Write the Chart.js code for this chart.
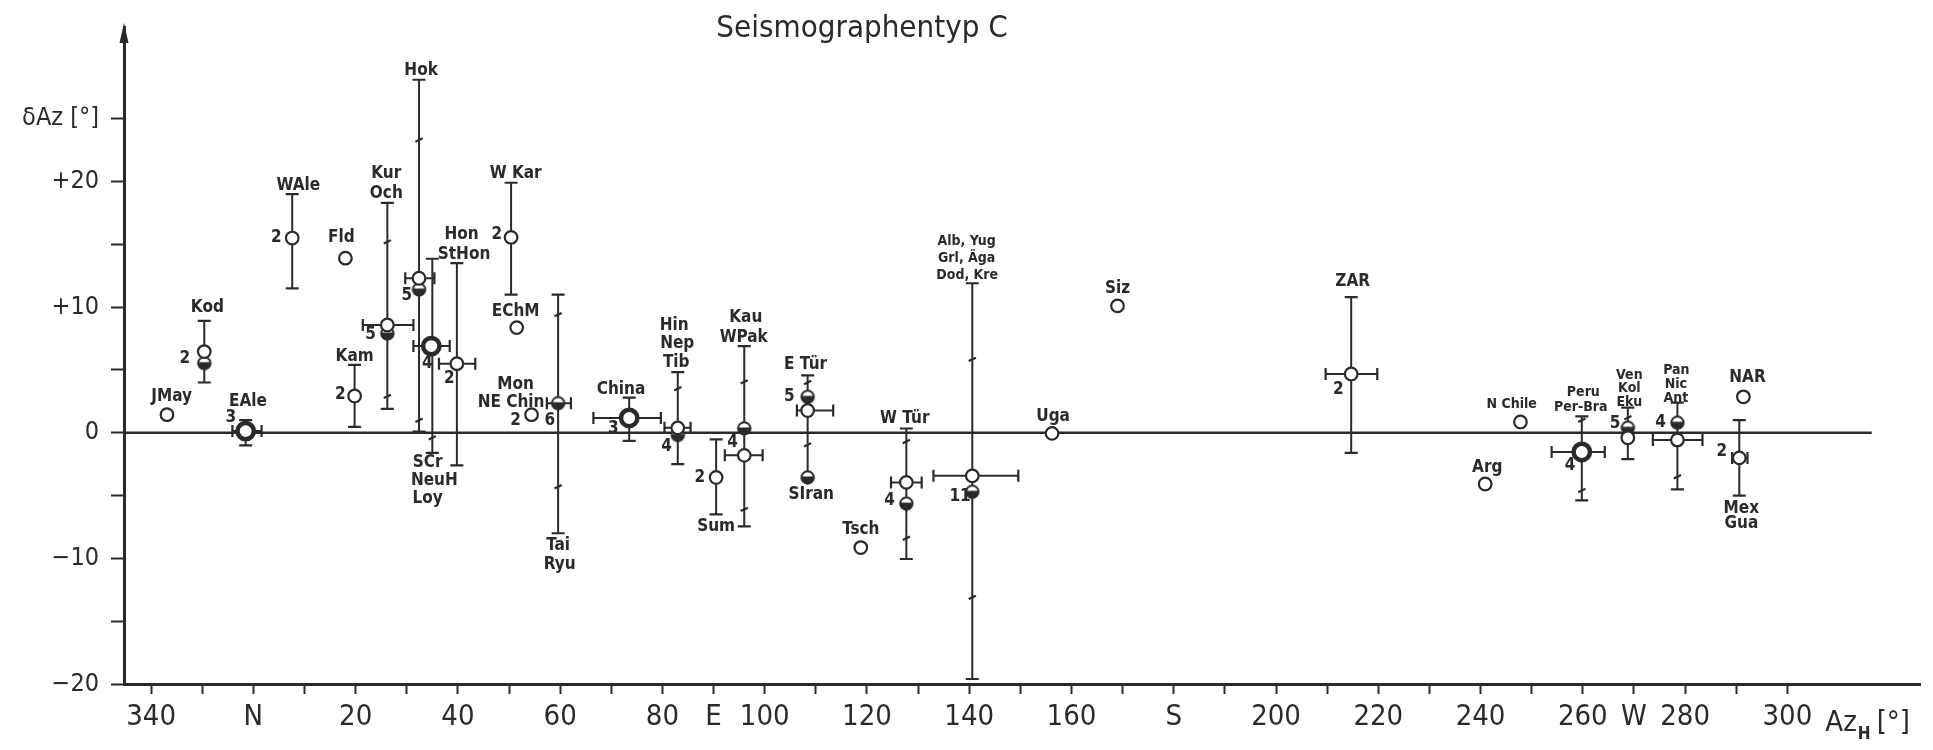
<!DOCTYPE html>
<html>
<head>
<meta charset="utf-8">
<script src="https://cdn.jsdelivr.net/npm/chart.js@4.4.1/dist/chart.umd.min.js"></script>
<style>
html,body{margin:0;padding:0;background:#fff;}
#wrap{width:1933px;height:750px;position:relative;}
</style>
</head>
<body>
<div id="wrap"><canvas id="c" width="1933" height="750"></canvas></div>
<script>
// ---------------- DATA ----------------
// Azimuth is plotted continuously: 340° -> -20, N -> 0, E -> 90, S -> 180, W -> 270
const xTickMarks  = [-20,-10,0,10,20,30,40,50,60,70,80,90,100,110,120,130,140,150,160,170,180,190,200,210,220,230,240,250,260,270,280,290,300];
const xTickValues = [-20,0,20,40,60,80,90,100,120,140,160,180,200,220,240,260,270,280,300];
const xTickLabels = ['340','N','20','40','60','80','E','100','120','140','160','S','200','220','240','260','W','280','300'];
const yTickMarks  = [-20,-15,-10,-5,0,5,10,15,20,25];
const yTickValues = [25,20,10,0,-10,-20];
const yTickLabels = ['δAz [°]','+20','+10','0','−10','−20'];
const X_MIN = -25.3, X_MAX = 326, Y_MIN = -20, Y_MAX = 32.3;
const zeroLineEnd = 316.5;

// open circles
const openX = [-16.9,-9.6,7.6,18.0,19.8,26.2,32.4,39.8,50.4,51.5,54.4,83.0,90.5,96.0,108.4,118.8,127.7,140.6,156.2,169.0,214.7,247.8,240.9,268.8,278.5,291.4,290.6];
const openY = [1.44,6.46,15.5,13.9,2.93,8.58,12.3,5.5,15.55,8.37,1.44,0.39,-3.56,-1.8,1.77,-9.14,-3.95,-3.43,-0.05,10.1,4.68,0.86,-4.08,-0.4,-0.57,2.86,-2.0];
// bold circles
const boldX = [-1.5,34.8,73.5,259.8];
const boldY = [0.13,6.9,1.18,-1.53];
// half-filled circles
const halfX = [-9.6,26.2,32.4,59.6,83.0,96.0,108.4,108.4,127.7,140.6,268.8,278.5];
const halfY = [5.54,7.9,11.4,2.35,-0.18,0.34,2.86,-3.56,-5.64,-4.7,0.4,0.8];

// vertical error bars
const vBarX  = [-9.6,-1.5,7.6,19.8,26.2,32.4,35.0,39.8,50.4,59.6,73.5,83.0,90.5,96.0,108.4,127.7,140.6,214.7,259.8,268.8,278.5,290.6];
const vBarLo = [4.0,-1.0,11.5,0.47,1.9,0.1,-1.6,-2.6,11.0,-8.0,-0.65,-2.5,-6.5,-7.45,-3.56,-10.05,-19.6,-1.6,-5.38,-2.1,-4.5,-5.0];
const vBarHi = [8.9,1.0,19.0,5.4,18.3,28.1,13.85,13.5,19.9,11.0,2.8,4.83,-0.52,6.9,4.57,0.34,11.9,10.8,1.3,2.0,2.4,1.0];
const vBarInner = [[],[],[],[],[15.2,2.9],[23.3,1.0],[-0.4],[],[],[9.4,-4.3],[],[3.5],[],[4.05,-6.1],[4.0,-0.96],[-0.7,-8.4],[5.84,-13.1],[],[1.0,-4.6],[1.2],[-3.5],[]];
// horizontal error bars
const hBarY  = [0.13,8.58,12.3,6.9,5.5,2.35,1.18,0.39,-1.8,1.77,-3.95,-3.43,4.68,-1.53,-0.57,-2.0];
const hBarLo = [-4.1,21.4,29.7,31.3,36.3,57.4,66.5,80.4,92.2,106.3,124.7,133.0,209.7,253.9,273.7,289.2];
const hBarHi = [1.6,31.3,35.4,38.4,43.4,62.1,79.7,85.5,99.6,113.4,130.7,149.6,219.8,264.3,283.4,292.2];

// region names
const nameText = ['JMay','Kod','EAle','WAle','Fld','Kam','Kur','Och','Hok','Hon','StHon','W Kar','EChM','Mon','NE Chin','SCr','NeuH','Loy','Tai','Ryu','China','Hin','Nep','Tib','Sum','Kau','WPak','E Tür','SIran','Tsch','W Tür','Uga','Siz','ZAR','Arg','NAR','Mex','Gua'];
const nameX = [-16.0,-9.0,-1.05,8.8,17.2,19.8,26.0,26.0,32.8,40.7,41.2,51.3,51.3,51.3,50.4,34.1,35.4,34.1,59.6,59.9,71.9,82.3,82.9,82.7,90.5,96.3,95.9,108.0,109.1,118.8,127.4,156.4,169.0,215.0,241.3,292.2,291.0,291.0];
const nameY = [2.9,10.0,2.5,19.7,15.5,6.1,20.65,19.0,28.8,15.8,14.2,20.65,9.65,3.85,2.4,-2.4,-3.8,-5.2,-9.0,-10.5,3.45,8.5,7.1,5.55,-7.5,9.2,7.6,5.4,-4.9,-7.7,1.1,1.3,11.5,12.0,-2.8,4.4,-6.0,-7.25];
// smaller region names
const smallText = ['Alb, Yug','Grl, Äga','Dod, Kre','N Chile','Peru','Per-Bra','Ven','Kol','Eku','Pan','Nic','Ant'];
const smallX = [139.5,139.5,139.6,246.1,260.1,259.6,269.1,269.1,269.1,278.3,278.2,278.2];
const smallY = [15.2,13.9,12.5,2.3,3.2,2.0,4.6,3.5,2.4,5.0,3.85,2.7];
// numbers of events
const countText = ['2','3','2','2','5','5','4','2','2','2','6','3','4','2','4','5','4','11','2','4','5','4','2'];
const countX = [-13.4,-4.4,4.5,17.0,22.9,30.0,34.0,38.3,47.6,51.3,58.0,70.4,80.8,87.3,93.7,104.8,124.4,138.2,212.2,257.5,266.3,275.2,287.2];
const countY = [5.9,1.23,15.55,3.0,7.8,10.9,5.5,4.3,15.8,1.0,1.0,0.3,-1.1,-3.56,-0.8,2.86,-5.4,-5.1,3.4,-2.6,0.7,0.8,-1.5];

const titleText = 'Seismographentyp C';

// ---------------- STYLE ----------------
const FONT = '"DejaVu Sans Condensed", "Liberation Sans Narrow", "DejaVu Sans", sans-serif';
const INK = '#2a2a2a';

function halfCircle(r, lw) {
  const s = Math.ceil(2 * r + lw + 2);
  const c = document.createElement('canvas');
  c.width = c.height = s;
  const g = c.getContext('2d');
  const m = s / 2;
  g.beginPath(); g.arc(m, m, r, 0, 2 * Math.PI); g.fillStyle = '#fff'; g.fill();
  g.beginPath(); g.arc(m, m, r, -0.15, Math.PI + 0.15); g.closePath(); g.fillStyle = INK; g.fill();
  g.beginPath(); g.arc(m, m, r, 0, 2 * Math.PI); g.lineWidth = lw; g.strokeStyle = INK; g.stroke();
  return c;
}
const halfImg = halfCircle(6.2, 2);

const datasets = [];
const zip = (xs, ys) => xs.map((x, i) => ({ x, y: ys[i] }));

// points (drawn on top)
datasets.push({ data: zip(openX, openY), pointStyle: 'circle', pointRadius: 6.3, pointBackgroundColor: '#fff', pointBorderColor: INK, pointBorderWidth: 2.2, showLine: false, order: 0 });
datasets.push({ data: zip(halfX, halfY), pointStyle: halfImg, pointRadius: 7, showLine: false, order: 0 });
datasets.push({ data: zip(boldX, boldY), pointStyle: 'circle', pointRadius: 8.2, pointBackgroundColor: '#fff', pointBorderColor: INK, pointBorderWidth: 4.5, showLine: false, order: 0 });

// vertical error bars
vBarX.forEach((x, i) => {
  const ys = [vBarLo[i], ...vBarInner[i], vBarHi[i]].sort((a, b) => a - b);
  const inner = vBarInner[i];
  datasets.push({
    data: ys.map(y => ({ x, y })),
    showLine: true, borderColor: INK, borderWidth: 2,
    pointStyle: 'line',
    pointRadius: ys.map(y => inner.includes(y) ? 4 : 6.5),
    pointRotation: ys.map(y => inner.includes(y) ? -25 : 0),
    pointBorderColor: INK, pointBorderWidth: 2.2, order: 2
  });
});
// horizontal error bars
hBarY.forEach((y, i) => {
  datasets.push({
    data: [{ x: hBarLo[i], y }, { x: hBarHi[i], y }],
    showLine: true, borderColor: INK, borderWidth: 2,
    pointStyle: 'line', pointRadius: 6, pointRotation: 90,
    pointBorderColor: INK, pointBorderWidth: 2.2, order: 2
  });
});
// zero line
datasets.push({ data: [{ x: X_MIN, y: 0 }, { x: zeroLineEnd, y: 0 }], showLine: true, borderColor: INK, borderWidth: 2.5, pointRadius: 0, order: 3 });

const annotPlugin = {
  id: 'annot',
  afterDraw(chart) {
    const { ctx, scales: { x, y }, chartArea } = chart;
    ctx.save();
    ctx.fillStyle = INK;
    ctx.textAlign = 'center';
    ctx.textBaseline = 'middle';
    ctx.font = `bold 17px ${FONT}`;
    nameText.forEach((t, i) => ctx.fillText(t, x.getPixelForValue(nameX[i]), y.getPixelForValue(nameY[i])));
    ctx.font = `bold 14px ${FONT}`;
    smallText.forEach((t, i) => ctx.fillText(t, x.getPixelForValue(smallX[i]), y.getPixelForValue(smallY[i])));
    ctx.font = `bold 17px ${FONT}`;
    countText.forEach((t, i) => ctx.fillText(t, x.getPixelForValue(countX[i]), y.getPixelForValue(countY[i])));
    // title
    ctx.font = `31px ${FONT}`;
    ctx.textBaseline = 'alphabetic';
    ctx.fillText(titleText, 862, 37);
    // x-axis name
    ctx.textAlign = 'left';
    ctx.font = `29px ${FONT}`;
    let px = x.getPixelForValue(X_MAX) - 95;
    const base = 731;
    ctx.fillText('Az', px, base);
    px += ctx.measureText('Az').width + 1;
    ctx.font = `bold 17px ${FONT}`;
    ctx.fillText('H', px, base + 8);
    px += ctx.measureText('H').width + 6;
    ctx.font = `29px ${FONT}`;
    ctx.fillText('[°]', px, base);
    // arrow on the y axis
    const ax = chartArea.left;
    ctx.beginPath();
    ctx.moveTo(ax, chartArea.top - 4);
    ctx.lineTo(ax - 4.5, chartArea.top + 16);
    ctx.lineTo(ax + 4.5, chartArea.top + 16);
    ctx.closePath();
    ctx.fill();
    ctx.restore();
  }
};

new Chart(document.getElementById('c'), {
  type: 'scatter',
  data: { datasets },
  options: {
    responsive: false,
    animation: false,
    events: [],
    layout: { padding: { top: 20, right: 5, left: 0, bottom: 0 } },
    plugins: { legend: { display: false }, tooltip: { enabled: false }, title: { display: false } },
    scales: {
      x: {
        type: 'linear', min: X_MIN, max: X_MAX,
        afterBuildTicks: s => { s.ticks = xTickMarks.map(v => ({ value: v })); },
        afterFit: s => { s.height = 66; },
        ticks: {
          autoSkip: false, maxRotation: 0, minRotation: 0, padding: 6, color: INK,
          font: { family: FONT, size: 29 },
          callback: v => { const i = xTickValues.indexOf(v); return i < 0 ? '' : xTickLabels[i]; }
        },
        grid: { display: true, drawOnChartArea: false, drawTicks: true, tickLength: 10, tickWidth: 2, tickColor: INK },
        border: { display: true, color: INK, width: 3 }
      },
      y: {
        type: 'linear', min: Y_MIN, max: Y_MAX,
        afterBuildTicks: s => { s.ticks = yTickMarks.map(v => ({ value: v })); },
        afterFit: s => { s.width = 124; },
        ticks: {
          autoSkip: false, padding: 12, color: INK,
          font: { family: FONT, size: 25 },
          callback: v => { const i = yTickValues.indexOf(v); return i < 0 ? '' : yTickLabels[i]; }
        },
        grid: { display: true, drawOnChartArea: false, drawTicks: true, tickLength: 13, tickWidth: 2, tickColor: INK },
        border: { display: true, color: INK, width: 3 }
      }
    }
  },
  plugins: [annotPlugin]
});
</script>
</body>
</html>
